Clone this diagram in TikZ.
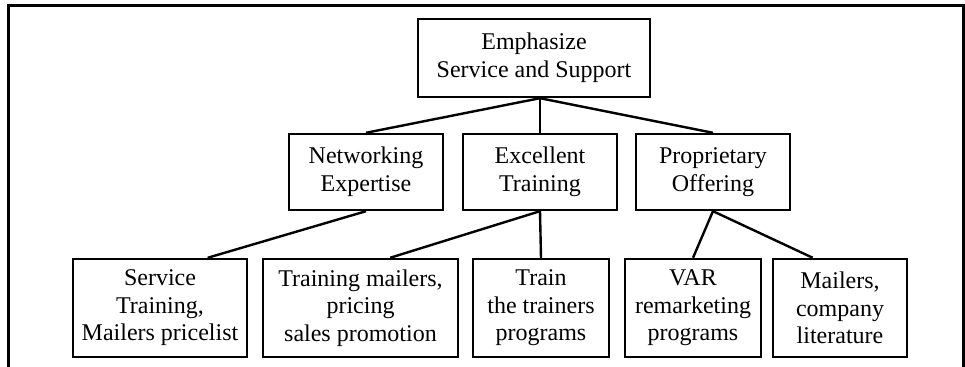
\documentclass[tikz,border=0pt]{standalone}
\usepackage{fontspec}
\setmainfont{Liberation Serif}
\usepackage{tikz}
\usetikzlibrary{calc}

\begin{document}
\begin{tikzpicture}[x=0.5pt,y=-0.5pt]
		\tikzstyle{box}=[draw, line width=1.2pt, align=center, inner sep=0pt, font=\fontsize{12}{13.8}\selectfont]
		\tikzstyle{mid}=[box, minimum width=77pt, minimum height=38pt]
		\tikzstyle{low}=[box, minimum height=49pt]
	    \tikzstyle{edge}=[draw,line width = 1.2pt,-,black!100]
		\tikzstyle{frame}=[draw,line width = 1.5pt]
		\useasboundingbox (0,0) rectangle (965,367);
		\draw[frame] (8,367) -- (8,6) -- (963,6) -- (963,367);

		\node[box, minimum width=116pt, minimum height=39pt] (top) at (534,58) {Emphasize\\Service and Support};

		\node[mid] (net) at (366,172) {Networking\\Expertise};
		\node[mid] (exc) at (540,172) {Excellent\\Training};
		\node[mid] (prop) at (713,172) {Proprietary\\Offering};

		\node[low, minimum width=87pt] (serv) at (160,308) {Service\\Training,\\Mailers pricelist};
		\node[low, minimum width=97.5pt] (tmail) at (360.5,308) {Training mailers,\\pricing\\sales promotion};
		\node[low, minimum width=68pt] (train) at (541,308) {Train\\the trainers\\programs};
		\node[low, minimum width=68pt] (var) at (693,308) {VAR\\remarketing\\programs};
		\node[low, minimum width=67pt] (mail) at (840,308) {Mailers,\\company\\literature};

		\coordinate (j) at (exc.north |- top.south);
		\draw[edge] (j) -- (net.north);
		\draw[edge] (j) -- (exc.north);
		\draw[edge] (j) -- (prop.north);

		\draw[edge] (net.south) -- ($(serv.north west)!0.77!(serv.north east)$);
		\draw[edge] (exc.south) -- ($(tmail.north west)!0.65!(tmail.north east)$);
		\draw[edge] (exc.south) -- (train.north);
		\draw[edge] (prop.south) -- (var.north);
		\draw[edge] (prop.south) -- ($(mail.north west)!0.3!(mail.north east)$);
	\end{tikzpicture}
\end{document}
